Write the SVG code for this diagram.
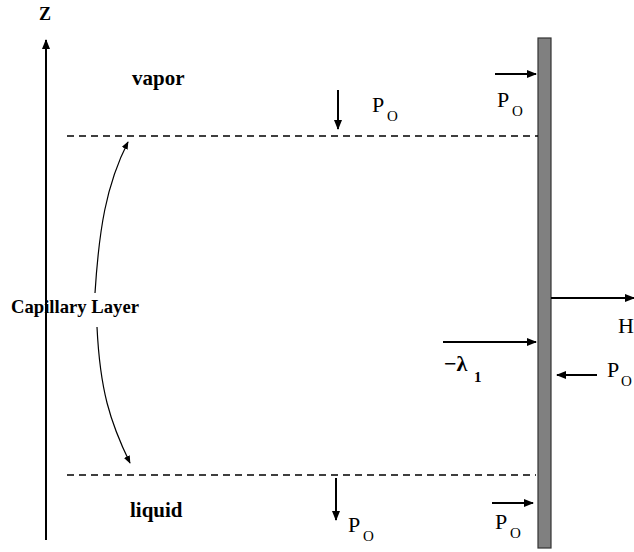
<svg xmlns="http://www.w3.org/2000/svg" width="634" height="552" viewBox="0 0 634 552">
<style>
.lbl{font-family:"Liberation Serif","Times New Roman",serif;font-weight:bold;fill:#000}
.p{font-family:"Liberation Serif","Times New Roman",serif;font-size:22px;fill:#000}
.sub{font-size:15px}
.ln{stroke:#000;stroke-width:2;fill:none}
.dash{stroke:#000;stroke-width:1.3;stroke-dasharray:7,5;fill:none}
.cv{stroke:#000;stroke-width:1.2;fill:none}
</style>
<defs>
<marker id="ah" viewBox="0 0 10 8" refX="9" refY="4" markerWidth="10" markerHeight="8" markerUnits="userSpaceOnUse" orient="auto">
<path d="M0,0 L10,4 L0,8 Z" fill="#000"/>
</marker>
<marker id="ahs" viewBox="0 0 10 8" refX="9" refY="4" markerWidth="8" markerHeight="7" markerUnits="userSpaceOnUse" orient="auto">
<path d="M0,0 L10,4 L0,8 Z" fill="#000"/>
</marker>
</defs>
<rect width="634" height="552" fill="#fff"/>
<g id="wall"><rect x="538" y="38" width="13" height="510" fill="#808080" stroke="#333" stroke-width="1.2"/></g>
<g id="connectors">
<line class="ln" x1="46" y1="540" x2="46" y2="40" marker-end="url(#ah)"/>
<line class="dash" x1="67" y1="136" x2="538" y2="136"/>
<line class="dash" x1="67" y1="475" x2="536" y2="475"/>
<line class="ln" x1="338" y1="90" x2="338" y2="129" marker-end="url(#ah)"/>
<line class="ln" x1="495" y1="74" x2="536" y2="74" marker-end="url(#ah)"/>
<line class="ln" x1="336" y1="478" x2="336" y2="520" marker-end="url(#ah)"/>
<line class="ln" x1="492" y1="503" x2="533" y2="503" marker-end="url(#ah)"/>
<line class="ln" x1="551" y1="298" x2="634" y2="298" marker-end="url(#ah)"/>
<line class="ln" x1="443" y1="342" x2="536" y2="342" marker-end="url(#ah)"/>
<line class="ln" x1="597" y1="375" x2="557" y2="375" marker-end="url(#ah)"/>
<path class="cv" d="M95,293 C99,230 106,185 128,142" marker-end="url(#ahs)"/>
<path class="cv" d="M97,327 C100,390 110,422 130,463" marker-end="url(#ahs)"/>
</g>
<g id="z-label"><text class="lbl" x="39" y="20" font-size="18">Z</text></g>
<g id="vapor"><text class="lbl" x="132" y="85" font-size="21">vapor</text></g>
<g id="liquid"><text class="lbl" x="130" y="517" font-size="21">liquid</text></g>
<g id="capillary"><text class="lbl" x="11" y="313" font-size="19" textLength="128" lengthAdjust="spacingAndGlyphs">Capillary Layer</text></g>
<g id="po-top"><text class="p" x="372" y="112">P<tspan class="sub" x="387" y="121">O</tspan></text></g>
<g id="po-top-right"><text class="p" x="497" y="107">P<tspan class="sub" x="512" y="116">O</tspan></text></g>
<g id="po-bottom"><text class="p" x="348" y="532">P<tspan class="sub" x="363" y="541">O</tspan></text></g>
<g id="po-bottom-right"><text class="p" x="495" y="529">P<tspan class="sub" x="510" y="538">O</tspan></text></g>
<g id="po-right"><text class="p" x="607" y="377">P<tspan class="sub" x="621" y="386">O</tspan></text></g>
<g id="h-label"><text class="p" x="618" y="333">H</text></g>
<g id="lambda"><text class="p" x="444" y="371" font-weight="bold">−λ<tspan class="sub" x="474" y="382" font-size="16">1</tspan></text></g>
</svg>
